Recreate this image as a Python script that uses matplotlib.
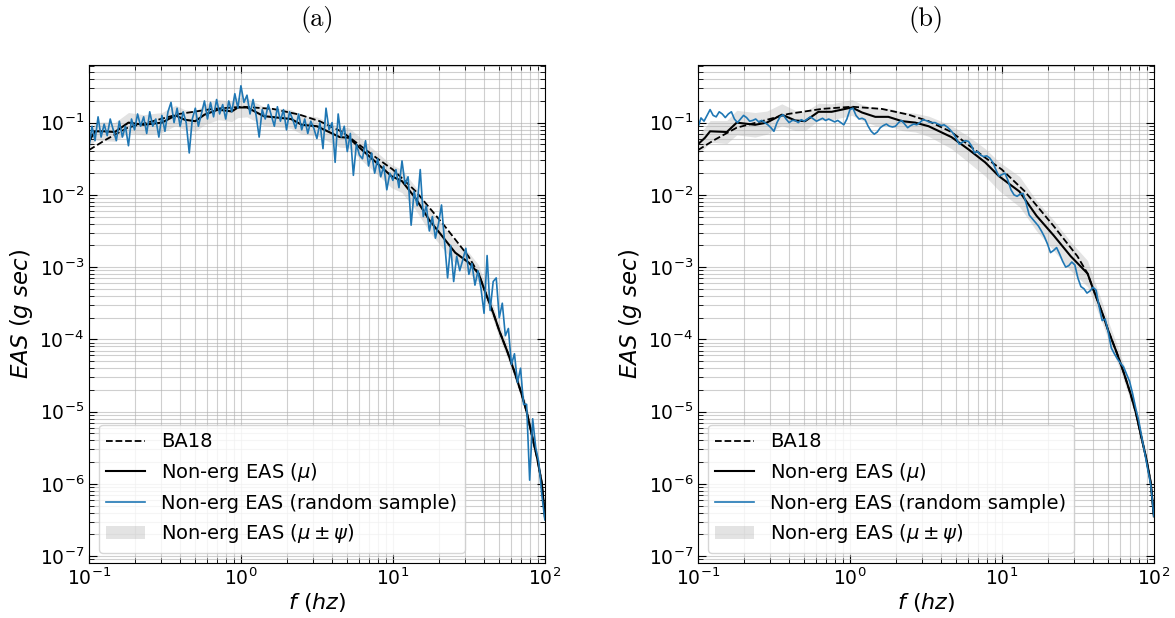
import numpy as np
import matplotlib.pyplot as plt

# frequency grid of the random samples (50 points per decade)
f_samp = np.logspace(-1, 2, 151)

# BA18 model, log10 EAS
ba18_logf = [-1.0, -0.888, -0.745, -0.58, -0.406, -0.185, 0.013, 0.21, 0.387, 0.518,
             0.668, 0.89, 1.0, 1.15, 1.34, 1.497, 1.564, 1.60, 1.663, 1.70, 1.755,
             1.80, 1.846, 1.88, 1.914, 1.95, 1.98, 2.0]
ba18_log = [-1.38, -1.235, -1.07, -0.98, -0.88, -0.81, -0.78, -0.81, -0.89, -0.98,
            -1.13, -1.485, -1.65, -1.95, -2.43, -2.85, -3.09, -3.30, -3.65, -3.88, -4.18,
            -4.45, -4.75, -5.0, -5.32, -5.65, -5.99, -6.45]

# panel (a): non-ergodic mean and band half-width (log10)
mean_a_logf = [-1.0, -0.96, -0.90, -0.83, -0.74, -0.64, -0.52, -0.43, -0.37, -0.30,
               -0.24, -0.15, -0.06, -0.02, 0.04, 0.15, 0.24, 0.33, 0.40, 0.50,
               0.65, 0.71, 0.79, 0.90, 0.99, 1.06, 1.15, 1.24, 1.32, 1.41,
               1.50, 1.564, 1.60, 1.663, 1.70, 1.755, 1.80, 1.846, 1.88, 1.914,
               1.95, 1.98, 2.0]
mean_a_log = [-1.26, -1.12, -1.12, -1.13, -1.0, -1.03, -1.0, -0.90, -0.96, -0.98,
              -0.89, -0.82, -0.845, -0.79, -0.79, -0.91, -0.93, -0.95, -1.03, -1.05,
              -1.2, -1.21, -1.365, -1.57, -1.74, -1.81, -2.05, -2.35, -2.56, -2.80,
              -2.94, -3.09, -3.30, -3.65, -3.88, -4.18, -4.45, -4.75, -5.0, -5.32,
              -5.65, -5.99, -6.45]
psi_a = [0.10, 0.12, 0.13, 0.13, 0.14, 0.14, 0.14, 0.14, 0.14, 0.14,
         0.14, 0.14, 0.14, 0.14, 0.13, 0.13, 0.13, 0.13, 0.13, 0.13,
         0.14, 0.14, 0.15, 0.15, 0.16, 0.16, 0.16, 0.16, 0.16, 0.15,
         0.14, 0.12, 0.11, 0.10, 0.10, 0.09, 0.09, 0.08, 0.08, 0.07,
         0.07, 0.06, 0.05]

# panel (a): random sample, log10 EAS at f_samp
samp_a_log = [-1.35, -1.05, -1.25, -0.92, -1.2, -1.02, -1.18, -0.95, -1.1, -1.25,
              -0.98, -1.2, -1.05, -1.32, -0.95, -1.1, -0.88, -1.05, -0.92, -1.15,
              -0.85, -1.05, -0.95, -1.2, -0.9, -1.12, -0.85, -0.72, -1.0, -0.8,
              -1.05, -0.85, -1.0, -1.42, -0.95, -0.8, -1.05, -0.88, -0.7, -0.95,
              -0.72, -0.92, -0.68, -0.88, -0.75, -0.95, -0.7, -0.85, -0.6, -0.8,
              -0.49, -0.72, -0.62, -0.88, -0.68, -0.9, -1.2, -0.82, -0.95, -0.75,
              -0.9, -1.05, -0.78, -0.98, -0.82, -1.1, -0.85, -0.95, -1.08, -0.88,
              -1.1, -0.95, -1.15, -0.98, -1.08, -1.22, -1.0, -1.36, -0.8, -1.1,
              -1.0, -1.55, -0.88, -1.2, -1.05, -1.4, -1.15, -1.73, -1.3, -1.45,
              -1.5, -1.25, -1.6, -1.42, -1.7, -1.5, -1.75, -1.6, -1.93, -1.7,
              -1.8, -1.65, -1.9, -1.53, -1.85, -1.75, -2.42, -1.95, -2.15, -1.65,
              -2.3, -2.15, -2.5, -2.3, -2.6, -2.4, -2.14, -2.65, -3.15, -2.7,
              -3.2, -2.85, -3.05, -2.9, -2.74, -3.1, -2.95, -3.25, -3.05, -3.3,
              -3.64, -2.84, -3.6, -3.2, -3.15, -3.7, -3.5, -3.95, -3.85, -4.35,
              -4.2, -4.6, -4.4, -4.9, -4.9, -5.95, -5.1, -5.5, -5.7, -6.15, -6.5]

# panel (b): non-ergodic mean and band half-width (log10)
mean_b_logf = [-1.0, -0.954, -0.92, -0.81, -0.745, -0.624, -0.547, -0.448, -0.36, -0.295,
               -0.207, -0.12, -0.053, 0.013, 0.08, 0.167, 0.253, 0.343, 0.43, 0.518,
               0.668, 0.78, 0.89, 0.98, 1.116, 1.228, 1.34, 1.453, 1.564, 1.60,
               1.663, 1.70, 1.755, 1.80, 1.846, 1.88, 1.914, 1.95, 1.98, 2.0]
mean_b_log = [-1.30, -1.21, -1.12, -1.13, -1.0, -1.03, -1.0, -0.89, -0.97, -0.98,
              -0.85, -0.85, -0.82, -0.79, -0.86, -0.92, -0.92, -0.98, -1.0, -1.05,
              -1.2, -1.37, -1.55, -1.74, -1.955, -2.29, -2.56, -2.85, -3.09, -3.30,
              -3.65, -3.88, -4.18, -4.45, -4.75, -5.0, -5.32, -5.65, -5.99, -6.45]
psi_b = [0.13, 0.14, 0.15, 0.16, 0.17, 0.17, 0.16, 0.15, 0.14, 0.13,
         0.12, 0.11, 0.11, 0.11, 0.11, 0.12, 0.12, 0.13, 0.13, 0.14,
         0.16, 0.18, 0.19, 0.20, 0.21, 0.21, 0.21, 0.20, 0.18, 0.16,
         0.14, 0.13, 0.12, 0.11, 0.10, 0.09, 0.08, 0.07, 0.06, 0.05]

# panel (b): random sample, log10 EAS at f_samp
samp_b_log = [-1.07, -0.935, -0.98, -0.90, -0.82, -0.90, -0.92, -0.85, -0.88, -0.93,
              -0.88, -0.85, -0.95, -1.0, -0.95, -0.90, -0.93, -0.98, -0.97, -0.95,
              -0.99, -0.97, -1.0, -1.03, -1.07, -1.12, -1.0, -0.92, -0.89, -0.95,
              -1.0, -0.97, -0.97, -1.0, -0.96, -0.98, -0.95, -0.92, -0.95, -0.98,
              -0.96, -0.94, -0.97, -0.95, -0.97, -0.99, -0.97, -1.0, -1.03, -0.95,
              -0.82, -0.80, -0.90, -0.95, -0.94, -0.96, -1.05, -1.12, -1.16, -1.13,
              -1.07, -1.04, -1.02, -1.05, -1.06, -1.05, -1.0, -0.97, -1.02, -1.07,
              -1.04, -1.02, -1.03, -1.0, -0.96, -0.97, -0.99, -1.0, -1.0, -1.02,
              -1.04, -1.03, -1.06, -1.1, -1.15, -1.22, -1.30, -1.27, -1.25, -1.26,
              -1.32, -1.42, -1.40, -1.45, -1.47, -1.46, -1.49, -1.55, -1.65, -1.74,
              -1.72, -1.70, -1.80, -1.93, -2.0, -2.02, -1.99, -1.98, -2.12, -2.28,
              -2.33, -2.38, -2.43, -2.50, -2.58, -2.68, -2.80, -2.77, -2.73, -2.82,
              -2.92, -3.0, -2.98, -2.93, -2.97, -3.15, -3.27, -3.30, -3.36, -3.33,
              -3.28, -3.32, -3.55, -3.74, -3.72, -3.9, -4.12, -4.2, -4.27, -4.33,
              -4.38, -4.48, -4.58, -4.75, -4.95, -5.12, -5.35, -5.57, -5.80, -6.02, -6.45]

x_ticks = [0.1, 1, 10, 100]
y_ticks = [1e-7, 1e-6, 1e-5, 1e-4, 1e-3, 1e-2, 1e-1]

panels = [
    ("(a)", mean_a_logf, mean_a_log, psi_a, samp_a_log),
    ("(b)", mean_b_logf, mean_b_log, psi_b, samp_b_log),
]

fig = plt.figure(figsize=(11.75, 6.18), dpi=100)
lefts = [0.0757, 0.594]

for left, (title, m_logf, m_log, psi, s_log) in zip(lefts, panels):
    ax = fig.add_axes([left, 0.089, 0.388, 0.806])
    f_m = 10 ** np.array(m_logf)
    m = np.array(m_log)
    p = np.array(psi)

    ax.plot(10 ** np.array(ba18_logf), 10 ** np.array(ba18_log), '--', color='k',
            lw=1.3, label='BA18')
    ax.plot(f_m, 10 ** m, '-', color='k', lw=1.5, label=r'Non-erg EAS ($\mu$)')
    ax.plot(f_samp, 10 ** np.array(s_log), '-', color='#1f77b4', lw=1.2,
            label='Non-erg EAS (random sample)')
    ax.fill_between(f_m, 10 ** (m - p), 10 ** (m + p), color='gray', alpha=0.22,
                    lw=0, label=r'Non-erg EAS ($\mu \pm \psi$)')

    ax.set_xscale('log')
    ax.set_yscale('log')
    ax.set_xticks(x_ticks)
    ax.set_yticks(y_ticks)
    ax.set_xlim(0.1, 100)
    ax.set_ylim(8e-8, 0.63)
    ax.grid(True, which='both', color='#b0b0b0', alpha=0.6, lw=0.8)
    ax.tick_params(which='both', direction='in', top=True, right=True, labelsize=13.5)
    ax.tick_params(which='major', length=6)
    ax.tick_params(which='minor', length=3.5)
    ax.set_xlabel(r'$f\ (hz)$', fontsize=16, labelpad=1)
    ax.set_ylabel(r'$EAS\ (g\ sec)$', fontsize=16.5, labelpad=3)
    ax.set_title(title, fontname='cmr10', fontsize=19, pad=28)
    ax.legend(loc='lower left', fontsize=14)

fig.savefig('out.png', dpi=100)
